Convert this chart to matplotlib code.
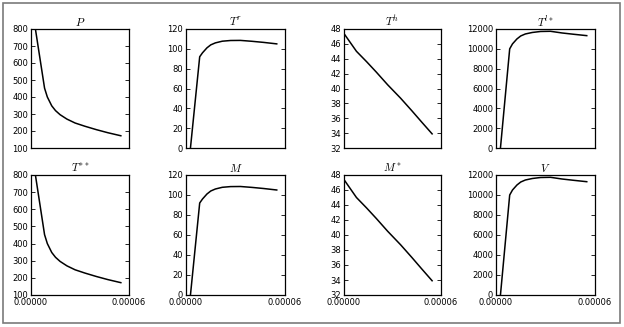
import numpy as np
import matplotlib
matplotlib.use("Agg")
import matplotlib.pyplot as plt
from matplotlib.patches import Rectangle

# shared x grid (most panels) and the one for T^h / M^*
x = [2.7e-6, 8.3e-6, 1.0e-5, 1.27e-5, 1.5e-5, 1.78e-5, 2.2e-5, 2.7e-5, 3.3e-5, 4.0e-5, 4.7e-5, 5.5e-5]
x_h = [0.6e-6, 3.5e-6, 7.7e-6, 1.4e-5, 2.0e-5, 2.7e-5, 3.5e-5, 4.2e-5, 4.8e-5, 5.45e-5]

P = [800, 452, 400, 348, 320, 296, 270, 247, 228, 208, 190, 172]
T_r = [0, 92, 96, 101, 104, 106, 107.7, 108.4, 108.5, 107.6, 106.5, 105]
T_h = [47.2, 46.3, 45.0, 43.6, 42.2, 40.5, 38.7, 37.0, 35.5, 33.9]
T_l = [0, 10000, 10500, 11000, 11300, 11500, 11650, 11750, 11770, 11600, 11470, 11330]
T_ss = [800, 452, 400, 348, 320, 296, 270, 247, 228, 208, 190, 172]
M = [0, 92, 96, 101, 104, 106, 107.7, 108.4, 108.5, 107.6, 106.5, 105]
M_s = [47.2, 46.3, 45.0, 43.6, 42.2, 40.5, 38.7, 37.0, 35.5, 33.9]
V = [0, 10000, 10500, 11000, 11300, 11500, 11650, 11750, 11770, 11600, 11470, 11330]

titles = [r"$P$", r"$T^r$", r"$T^h$", r"$T^{l*}$",
          r"$T^{**}$", r"$M$", r"$M^*$", r"$V$"]
series = [(x, P), (x, T_r), (x_h, T_h), (x, T_l),
          (x, T_ss), (x, M), (x_h, M_s), (x, V)]
ylims = [(100, 800), (0, 120), (32, 48), (0, 12000),
         (100, 800), (0, 120), (32, 48), (0, 12000)]
yticks = [np.arange(100, 801, 100), np.arange(0, 121, 20), np.arange(32, 49, 2),
          np.arange(0, 12001, 2000)]

plt.rcParams['mathtext.fontset'] = 'cm'

W, H = 624, 327
fig = plt.figure(figsize=(W / 100, H / 100), dpi=100)
fig.patch.set_facecolor('white')

# grey frame round the whole figure
fig.patches.append(Rectangle((3 / W, 1 - 323 / H), 617 / W, 320 / H,
                             transform=fig.transFigure, fill=False,
                             edgecolor='#7a7a7a', linewidth=1.2))

cols = [(31, 129), (186, 285), (344, 441), (496, 595)]
rows = [(29, 148), (175, 295)]

for i in range(8):
    r, c = divmod(i, 4)
    x0, x1 = cols[c]
    y0, y1 = rows[r]
    ax = fig.add_axes([x0 / W, 1 - y1 / H, (x1 - x0) / W, (y1 - y0) / H])
    xs, ys = series[i]
    ax.plot(xs, ys, color='black', linewidth=1.1)
    ax.set_xlim(0, 6e-5)
    ax.set_ylim(*ylims[i])
    ax.set_xticks([0, 6e-5])
    ax.set_yticks(yticks[c])
    if r == 1:
        ax.set_xticklabels(["0.00000", "0.00006"])
    else:
        ax.set_xticklabels([])
    ax.tick_params(direction='in', top=True, right=True, length=3,
                   width=0.6, labelsize=6, pad=2)
    for s in ax.spines.values():
        s.set_linewidth(0.9)
    ax.set_title(titles[i], fontsize=8, pad=2)

fig.savefig("out.png", dpi=100)
